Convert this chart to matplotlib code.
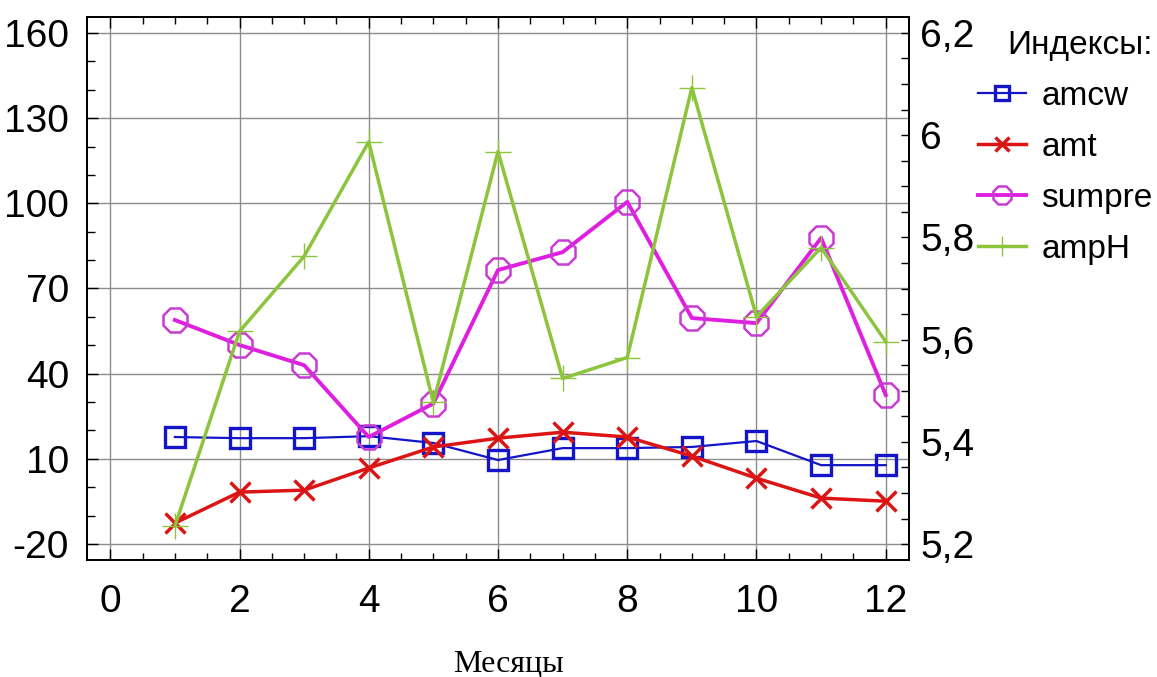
import numpy as np
import matplotlib
matplotlib.use('Agg')
import matplotlib.pyplot as plt
from matplotlib import font_manager
from matplotlib.ticker import MultipleLocator, FuncFormatter

# monthly values
months = [1, 2, 3, 4, 5, 6, 7, 8, 9, 10, 11, 12]
amcw = [17.7, 17.3, 17.3, 18.0, 15.6, 9.6, 13.8, 13.8, 14.2, 16.3, 7.8, 7.8]
amt = [-12.6, -1.7, -1.0, 6.8, 14.2, 17.3, 19.4, 17.7, 11.0, 3.2, -3.8, -4.9]
sumpre = [58.9, 50.1, 43.0, 17.7, 29.5, 76.5, 82.8, 100.5, 59.6, 57.8, 87.8, 32.5]
ampH = [5.235, 5.616, 5.763, 5.987, 5.477, 5.968, 5.524, 5.565, 6.093, 5.645, 5.78, 5.596]

plt.rcParams['axes.unicode_minus'] = False

names = {f.name for f in font_manager.fontManager.ttflist}
narrow = 'Liberation Sans Narrow' if 'Liberation Sans Narrow' in names else 'Liberation Sans'
tick_size = 30 if narrow == 'Liberation Sans Narrow' else 28

fig = plt.figure(figsize=(11.57, 6.77), dpi=100)
ax = fig.add_axes([87/1157, 1-560/677, (909-87)/1157, (560-17)/677])
ax2 = ax.twinx()

l1, = ax.plot(months, amcw, color='#1414c8', lw=1.6, marker='s', ms=14,
              mfc='none', mec='#1414c8', mew=2.4, label='amcw')
l2, = ax.plot(months, amt, color='#dc1414', lw=2.5, marker='x', ms=14,
              mew=2.5, label='amt')
l3, = ax.plot(months, sumpre, color='#e01ee0', lw=2.8, marker='8', ms=19,
              mfc='none', mec='#c83cd2', mew=1.8, label='sumpre')
l4, = ax2.plot(months, ampH, color='#8cc43c', lw=2.5, marker='+', ms=19,
               mew=1.0, label='ampH')

ax.set_xlim(-0.36, 12.36)
ax.set_ylim(-25.6, 165.6)
ax2.set_ylim(5.2 - 5.6/180, 6.2 + 5.6/180)

ax.xaxis.set_major_locator(MultipleLocator(2))
ax.xaxis.set_minor_locator(MultipleLocator(0.5))
ax.yaxis.set_minor_locator(MultipleLocator(10))
ax.set_yticks(np.arange(-20, 161, 30))
ax2.set_yticks(np.arange(5.2, 6.21, 0.2))
ax2.yaxis.set_minor_locator(MultipleLocator(0.05))
ax2.yaxis.set_major_formatter(FuncFormatter(lambda v, p: f'{round(v, 2):g}'.replace('.', ',')))

ax.grid(True, which='major', color='#8c8c8c', lw=1.0)
ax.set_axisbelow(True)

ax.tick_params(axis='x', which='both', direction='in', top=True, pad=17)
ax.tick_params(axis='x', which='major', length=8, width=1)
ax.tick_params(axis='x', which='minor', length=5, width=1)
ax.tick_params(axis='y', which='both', direction='in', right=False, pad=13)
ax.tick_params(axis='y', which='major', length=8, width=1)
ax.tick_params(axis='y', which='minor', length=6, width=1)
ax2.tick_params(axis='y', which='both', direction='in', length=6, width=1, pad=8)

for a in (ax, ax2):
    for s in a.spines.values():
        s.set_linewidth(1.3)
        s.set_color('black')
    for lab in a.get_xticklabels() + a.get_yticklabels():
        lab.set_family(narrow)
        lab.set_fontsize(tick_size)

fig.text(508/1157, 1-664/677, 'Месяцы', family='Liberation Serif', fontsize=23,
         ha='center', va='center')

leg = fig.legend(handles=[l1, l2, l3, l4], loc='upper left',
                 bbox_to_anchor=(978/1157, 1-30/677), frameon=False,
                 title='Индексы:', prop={'family': 'Liberation Sans', 'size': 24},
                 title_fontproperties={'family': 'Liberation Sans', 'size': 24},
                 handlelength=1.45, handletextpad=0.45, labelspacing=0.6,
                 markerscale=0.75, borderaxespad=0, borderpad=0,
                 alignment='right')

fig.savefig('out.png', dpi=100)
